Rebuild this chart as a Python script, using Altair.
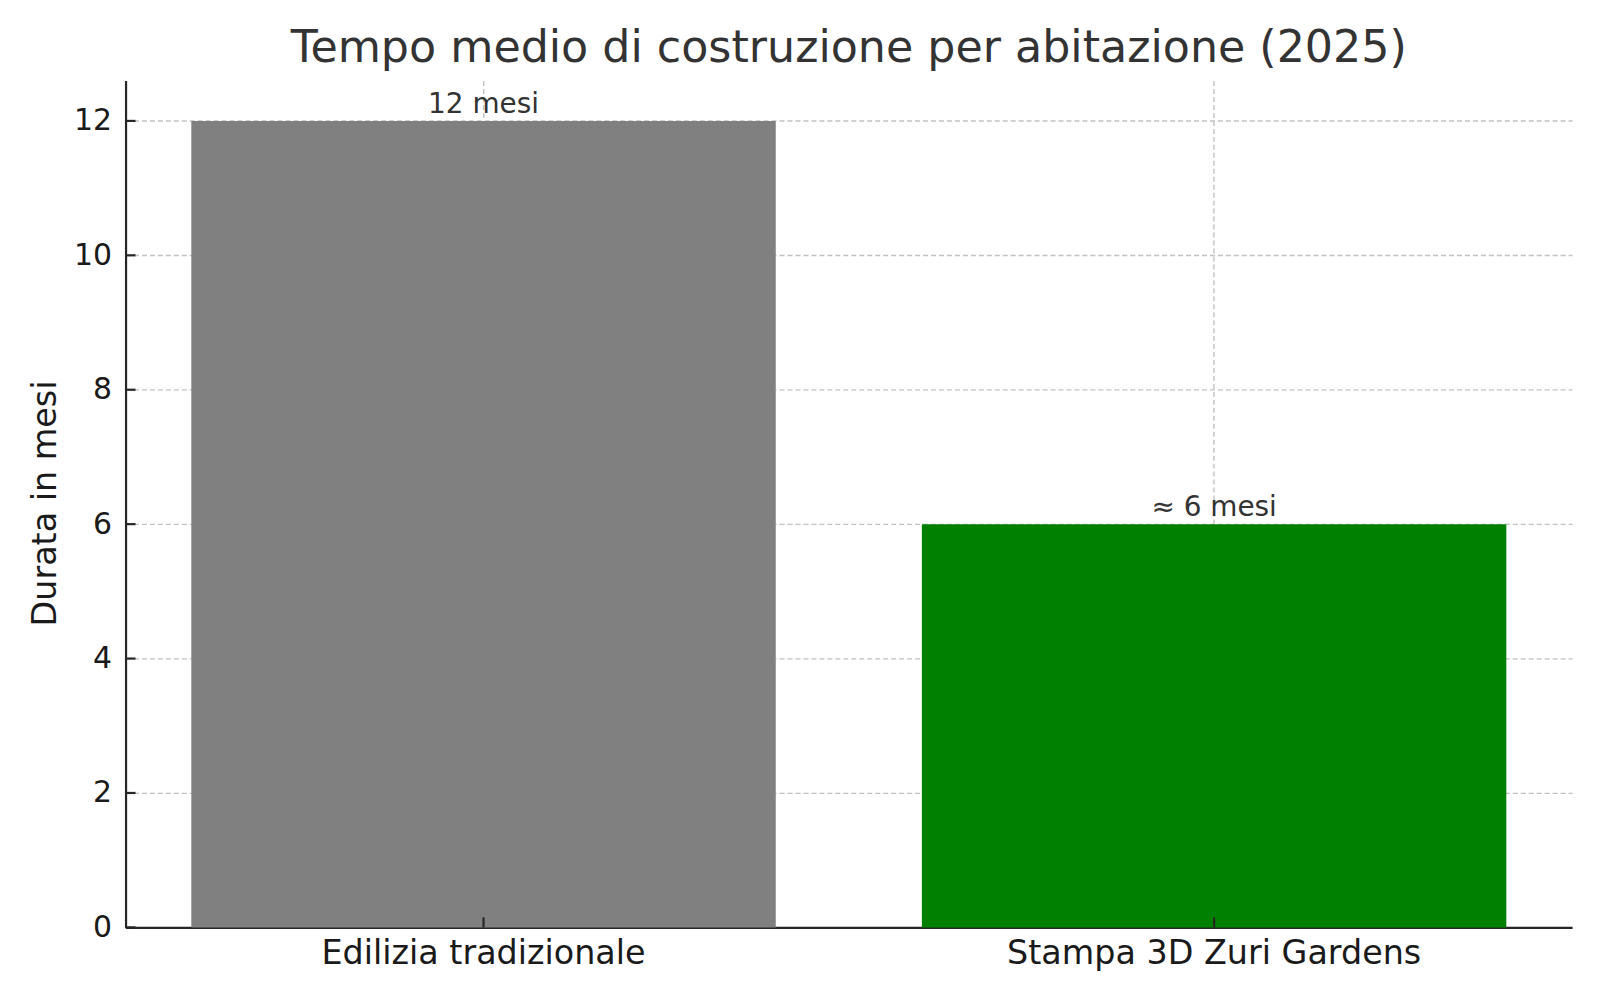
import altair as alt
import pandas as pd

categories = ["Edilizia tradizionale", "Stampa 3D Zuri Gardens"]
values = [12, 6]
labels = ["12 mesi", "≈ 6 mesi"]
colors = ["#808080", "#008000"]
y_ticks = [0, 2, 4, 6, 8, 10, 12]

df = pd.DataFrame({"cat": categories, "val": values, "lab": labels, "col": colors})
ticks_df = pd.DataFrame({"t": y_ticks})

FONT = "DejaVu Sans"
W, H = 1452, 850
AXC = "#262626"
GRID = dict(grid=True, gridDash=[5, 3], gridColor="#c2c2c2", gridWidth=1.4)

xscale = alt.Scale(domain=categories, paddingInner=0.2, paddingOuter=0.09)
yscale = alt.Scale(domain=[0, 12.6], nice=False, zero=True)

x = alt.X("cat:N", sort=categories, title=None, scale=xscale,
          axis=alt.Axis(labelAngle=0, bandPosition=0.5, labelFontSize=33.5,
                        labelColor="#1a1a1a", labelFont=FONT, labelPadding=10,
                        labelLimit=0, ticks=False,
                        domainColor=AXC, domainWidth=2.2, **GRID))
y = alt.Y("val:Q", title="Durata in mesi", scale=yscale,
          axis=alt.Axis(values=y_ticks, format="d", labelFontSize=30,
                        labelColor="#1a1a1a", labelFont=FONT, labelPadding=14,
                        ticks=False, domainColor=AXC, domainWidth=2.2,
                        titleFontSize=33.5, titleFont=FONT, titleFontWeight="normal",
                        titleColor="#1a1a1a", titleX=-80, titleY=424,
                        titleAlign="center", titleBaseline="middle", titleAngle=270,
                        **GRID))

bars = alt.Chart(df).mark_bar().encode(
    x=x, y=y, color=alt.Color("col:N", scale=None)
)
text = alt.Chart(df).mark_text(baseline="alphabetic", dy=-8, fontSize=28, font=FONT,
                               color="#333333").encode(
    x=alt.X("cat:N", sort=categories, scale=xscale), y=alt.Y("val:Q", scale=yscale),
    text="lab:N"
)
xticks = alt.Chart(df).mark_rule(color=AXC, strokeWidth=2.2).encode(
    x=alt.X("cat:N", sort=categories, scale=xscale),
    y=alt.value(H - 10), y2=alt.value(H)
)
yticks = alt.Chart(ticks_df).mark_rule(color=AXC, strokeWidth=2.2).encode(
    y=alt.Y("t:Q", scale=yscale), x=alt.value(0), x2=alt.value(10)
)

chart = alt.layer(bars, text, xticks, yticks).properties(
    width=W, height=H,
    title=alt.TitleParams("Tempo medio di costruzione per abitazione (2025)",
                          fontSize=44.5, font=FONT, fontWeight="normal",
                          color="#333333", offset=9, anchor="middle"),
    autosize=alt.AutoSizeParams(type="none"),
    padding={"left": 118, "top": 71, "right": 20, "bottom": 65},
).configure_view(stroke=None).configure_axis(zindex=1)

chart.save("out.html", embed_options={"renderer": "svg", "actions": False})
